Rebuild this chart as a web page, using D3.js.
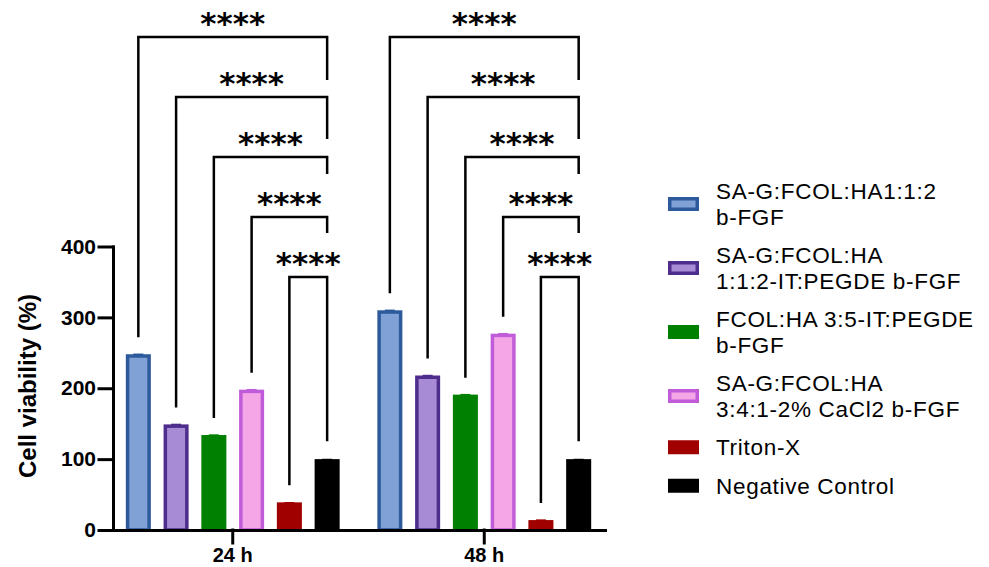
<!DOCTYPE html>
<html>
<head>
<meta charset="utf-8">
<script src="https://cdn.jsdelivr.net/npm/d3@7"></script>
<style>
  body { margin: 0; background: #fff; }
  svg { font-family: Arial, "Liberation Sans", sans-serif; }
</style>
</head>
<body>
<div id="chart"></div>
<script>
// data
const groups = ["24 h", "48 h"];
const series = [
  "SA-G:FCOL:HA1:1:2 b-FGF",
  "SA-G:FCOL:HA 1:1:2-IT:PEGDE b-FGF",
  "FCOL:HA 3:5-IT:PEGDE b-FGF",
  "SA-G:FCOL:HA 3:4:1-2% CaCl2 b-FGF",
  "Triton-X",
  "Negative Control"
];
const legendLines = [
  ["SA-G:FCOL:HA1:1:2", "b-FGF"],
  ["SA-G:FCOL:HA", "1:1:2-IT:PEGDE b-FGF"],
  ["FCOL:HA 3:5-IT:PEGDE", "b-FGF"],
  ["SA-G:FCOL:HA", "3:4:1-2% CaCl2 b-FGF"],
  ["Triton-X"],
  ["Negative Control"]
];
const values24 = [248, 149, 134, 198, 39, 100];
const values48 = [310, 218, 191, 277, 14, 100];
const errors24 = [1, 1, 1, 1, 0.5, 0.5];
const errors48 = [1, 1, 1, 1, 1, 0.5];
const yTicks = [0, 100, 200, 300, 400];
// each bar vs negative control
const comparisons = [[0, 5], [1, 5], [2, 5], [3, 5], [4, 5]];
const sigLabels = ["****", "****", "****", "****", "****"];

const fills   = ["#7fa1d5", "#a78bd4", "#008000", "#f4a6e6", "#a00000", "#000000"];
const strokes = ["#2d5a9b", "#4f2d8c", "#008000", "#c05cd9", "#a00000", "#000000"];

const width = 989, height = 567;
const svg = d3.select("#chart").append("svg")
  .attr("width", width).attr("height", height);

const y = d3.scaleLinear().domain([0, 400]).range([530, 246.5]);
const x0 = d3.scaleBand().domain(groups).range([112, 605])
  .paddingInner(0.1).paddingOuter(0.03);
const x1 = d3.scaleBand().domain(d3.range(series.length)).range([0, x0.bandwidth()])
  .paddingInner(0.337).paddingOuter(0.166);

const table = groups.map((g, gi) => ({
  group: g,
  bars: (gi === 0 ? values24 : values48).map((v, i) => ({
    i, v, err: (gi === 0 ? errors24 : errors48)[i]
  }))
}));

const sw = 3.5; // bar outline

const gGroups = svg.selectAll(".grp").data(table).enter().append("g")
  .attr("transform", d => `translate(${x0(d.group)},0)`);

// error caps
gGroups.selectAll(".err").data(d => d.bars).enter().append("line")
  .attr("x1", d => x1(d.i) + x1.bandwidth() / 2 - 5)
  .attr("x2", d => x1(d.i) + x1.bandwidth() / 2 + 5)
  .attr("y1", d => y(d.v + d.err) + 1)
  .attr("y2", d => y(d.v + d.err) + 1)
  .attr("stroke", d => strokes[d.i])
  .attr("stroke-width", 2);

gGroups.selectAll(".bar").data(d => d.bars).enter().append("rect")
  .attr("x", d => x1(d.i) + sw / 2)
  .attr("y", d => y(d.v) + sw / 2)
  .attr("width", x1.bandwidth() - sw)
  .attr("height", d => y(0) - y(d.v) - sw / 2)
  .attr("fill", d => fills[d.i])
  .attr("stroke", d => strokes[d.i])
  .attr("stroke-width", sw);

// significance brackets
const rightLeg = [43, 42, 17, 16];
table.forEach(gd => {
  const gx = x0(gd.group);
  const cx = i => gx + x1(i) + x1.bandwidth() / 2;
  comparisons.forEach(([a, b], k) => {
    const by = 37 + 60 * k;
    const leftEnd = y(gd.bars[a].v) - 17;
    const rightEnd = k < rightLeg.length ? by + rightLeg[k] : y(gd.bars[b].v) - 18;
    svg.append("path")
      .attr("d", `M${cx(a)},${leftEnd}V${by}H${cx(b)}V${rightEnd}`)
      .attr("fill", "none")
      .attr("stroke", "#000")
      .attr("stroke-width", 2.5);
    svg.append("text")
      .attr("x", (cx(a) + cx(b)) / 2)
      .attr("y", by - 3)
      .attr("text-anchor", "middle")
      .attr("font-family", "'DejaVu Sans', sans-serif")
      .attr("font-weight", "bold")
      .attr("font-size", 31)
      .text(sigLabels[k]);
  });
});

// axes
const yAxis = svg.append("g")
  .attr("transform", "translate(113,0)")
  .call(d3.axisLeft(y).tickValues(yTicks).tickSize(14).tickSizeOuter(0).tickPadding(3));
const xAxis = svg.append("g")
  .attr("transform", "translate(0,530)")
  .call(d3.axisBottom(x0).tickSize(13).tickSizeOuter(0).tickPadding(5));
[yAxis, xAxis].forEach(a => {
  a.selectAll("path, line").attr("stroke", "#000").attr("stroke-width", 3)
    .attr("stroke-linecap", "square");
  a.selectAll("text").attr("fill", "#000").attr("font-weight", "bold")
    .attr("font-family", "Arial, 'Liberation Sans', sans-serif");
});
yAxis.selectAll("text").attr("font-size", 21);
xAxis.selectAll("text").attr("font-size", 20);

svg.append("text")
  .attr("transform", "translate(27,386) rotate(-90)")
  .attr("text-anchor", "middle")
  .attr("dominant-baseline", "central")
  .attr("font-weight", "bold")
  .attr("font-size", 24)
  .text("Cell viability (%)");

// legend
const lineH = 25.5, gap = 13;
let entryTop = 178.5;
const legend = svg.append("g");
legendLines.forEach((lines, i) => {
  const h = lines.length * lineH;
  const mid = entryTop + h / 2;
  legend.append("rect")
    .attr("x", 668 + sw / 2)
    .attr("y", mid - 7 + sw / 2)
    .attr("width", 31 - sw)
    .attr("height", 14 - sw)
    .attr("fill", fills[i])
    .attr("stroke", strokes[i])
    .attr("stroke-width", sw);
  lines.forEach((t, j) => {
    legend.append("text")
      .attr("x", 716)
      .attr("y", entryTop + lineH * j + lineH / 2 + 8)
      .attr("font-size", 22.5)
      .attr("letter-spacing", 0.7)
      .text(t);
  });
  entryTop += h + gap;
});
</script>
</body>
</html>
